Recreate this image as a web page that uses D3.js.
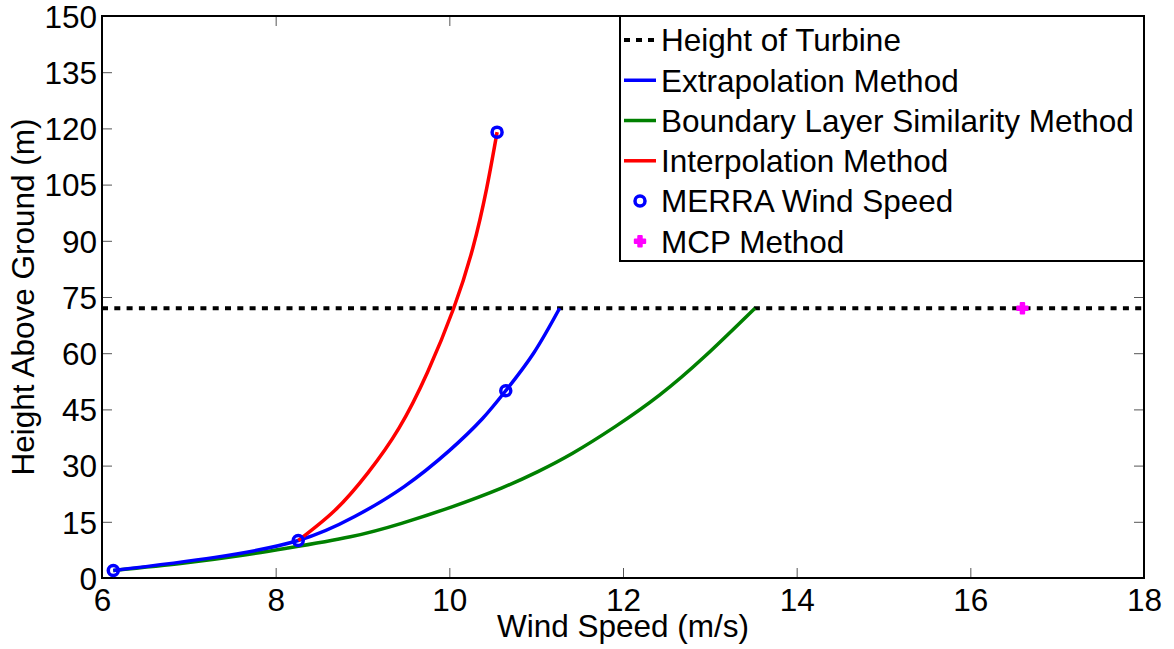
<!DOCTYPE html>
<html>
<head>
<meta charset="utf-8">
<script src="https://cdn.jsdelivr.net/npm/d3@7"></script>
<style>
  html, body { margin: 0; padding: 0; background: #fff; }
  svg { display: block; font-family: "Liberation Sans", Arial, Helvetica, sans-serif; }
</style>
</head>
<body>
<svg id="chart" width="1174" height="649"></svg>
<script>
// ---- Data ----
const xTicks = [6, 8, 10, 12, 14, 16, 18];
const yTicks = [0, 15, 30, 45, 60, 75, 90, 105, 120, 135, 150];

const turbineHeight = 72;

// Extrapolation Method (blue): wind speed (m/s) vs height (m)
const extrapolationSpeed  = [6.13, 7.30, 8.26, 8.91, 9.48, 10.00, 10.38, 10.65, 10.97, 11.27];
const extrapolationHeight = [2.0,  5.5,  10.0, 16.4, 24.4, 34.0,  42.5,  50.0,  60.0,  72.0];

// Boundary Layer Similarity Method (green)
const boundarySpeed  = [6.13, 6.95, 7.60, 8.14, 8.86, 9.45, 10.03, 10.60, 11.02, 11.42, 11.91, 12.42, 12.94, 13.52];
const boundaryHeight = [2.0,  4.0,  6.0,  8.0,  11.0, 14.6, 19.0,  24.0,  28.4,  33.3,  40.4,  48.8,  59.1,  72.0];

// Interpolation Method (red)
const interpolationSpeed  = [8.26, 8.68, 9.06, 9.42, 9.75, 10.05, 10.27, 10.43, 10.55];
const interpolationHeight = [10.0, 18.0, 28.0, 40.0, 55.0, 72.0,  88.0,  104.0, 119.0];

// MERRA Wind Speed (blue circles)
const merraSpeed  = [6.13, 8.26, 10.65, 10.55];
const merraHeight = [2, 10, 50, 119];

// MCP Method (magenta)
const mcpSpeed  = [16.6];
const mcpHeight = [72];

const legendLabels = ["Height of Turbine", "Extrapolation Method", "Boundary Layer Similarity Method",
                      "Interpolation Method", "MERRA Wind Speed", "MCP Method"];

// ---- Layout ----
const svg = d3.select("#chart");
const L = 102, R = 1144, T = 16, B = 578;
const x = d3.scaleLinear().domain([6, 18]).range([L, R]);
const y = d3.scaleLinear().domain([0, 150]).range([B, T]);

const fontSize = 31.5;

// Axes (ticks inward)
const tickLen = 10;
const xAxis = d3.axisBottom(x).tickValues(xTicks).tickSize(-tickLen).tickFormat(d3.format("d"));
const yAxis = d3.axisLeft(y).tickValues(yTicks).tickSize(-tickLen).tickFormat(d3.format("d"));
const xTop = d3.axisTop(x).tickValues(xTicks).tickSize(-tickLen).tickFormat("");
const yRight = d3.axisRight(y).tickValues(yTicks).tickSize(-tickLen).tickFormat("");

function styleAxis(g) {
  g.select(".domain").remove();
  g.selectAll(".tick line").attr("stroke", "#555").attr("stroke-width", 1);
  g.selectAll(".tick text").attr("font-size", fontSize).attr("fill", "#000")
    .attr("font-family", "'Liberation Sans', Arial, Helvetica, sans-serif");
}

svg.append("g").attr("transform", `translate(0,${B})`).call(xAxis).call(styleAxis)
  .selectAll(".tick text").attr("dy", "0.72em").attr("y", 10);
svg.append("g").attr("transform", `translate(${L},0)`).call(yAxis).call(styleAxis)
  .selectAll(".tick text").attr("dy", "0.36em").attr("x", -5);
svg.append("g").attr("transform", `translate(0,${T})`).call(xTop).call(styleAxis);
svg.append("g").attr("transform", `translate(${R},0)`).call(yRight).call(styleAxis);

// Frame
svg.append("rect").attr("x", L).attr("y", T).attr("width", R - L).attr("height", B - T)
  .attr("fill", "none").attr("stroke", "#000").attr("stroke-width", 2);

// Axis labels
svg.append("text").attr("x", (L + R) / 2).attr("y", 637).attr("text-anchor", "middle")
  .attr("font-size", fontSize).text("Wind Speed (m/s)");
svg.append("text").attr("transform", `translate(34,${(T + B) / 2}) rotate(-90)`)
  .attr("text-anchor", "middle").attr("font-size", fontSize).text("Height Above Ground (m)");

// Plot content
const plot = svg.append("g");

// Turbine height line
plot.append("line").attr("x1", x(6)).attr("x2", x(18)).attr("y1", y(turbineHeight)).attr("y2", y(turbineHeight))
  .attr("stroke", "#000").attr("stroke-width", 4).attr("stroke-dasharray", "6,6.3");

const line = d3.line().x(d => x(d[0])).y(d => y(d[1])).curve(d3.curveNatural);
function series(sp, h) { return sp.map((s, i) => [s, h[i]]); }

plot.append("path").datum(series(boundarySpeed, boundaryHeight)).attr("d", line)
  .attr("fill", "none").attr("stroke", "#008000").attr("stroke-width", 3.5);
plot.append("path").datum(series(extrapolationSpeed, extrapolationHeight)).attr("d", line)
  .attr("fill", "none").attr("stroke", "#0000ff").attr("stroke-width", 3.5);
plot.append("path").datum(series(interpolationSpeed, interpolationHeight)).attr("d", line)
  .attr("fill", "none").attr("stroke", "#ff0000").attr("stroke-width", 3.5);

plot.selectAll(".merra").data(series(merraSpeed, merraHeight)).enter().append("circle")
  .attr("cx", d => x(d[0])).attr("cy", d => y(d[1])).attr("r", 5)
  .attr("fill", "none").attr("stroke", "#0000ff").attr("stroke-width", 3.5);

const cross = d3.symbol().type(d3.symbolCross).size(60);
plot.selectAll(".mcp").data(series(mcpSpeed, mcpHeight)).enter().append("path")
  .attr("transform", d => `translate(${x(d[0])},${y(d[1])})`).attr("d", cross)
  .attr("fill", "#ff00ff").attr("stroke", "#ff00ff").attr("stroke-width", 2).attr("stroke-linejoin", "round");

// Legend
const lg = svg.append("g");
lg.append("rect").attr("x", 620).attr("y", T).attr("width", R - 620).attr("height", 261 - T)
  .attr("fill", "#fff").attr("stroke", "#000").attr("stroke-width", 2);
const rowY = i => 40 + i * 40.26;
const lx1 = 624, lx2 = 656, tx = 661;
lg.append("line").attr("x1", lx1).attr("x2", lx2).attr("y1", rowY(0)).attr("y2", rowY(0))
  .attr("stroke", "#000").attr("stroke-width", 4).attr("stroke-dasharray", "6,6");
const lineColors = ["#0000ff", "#008000", "#ff0000"];
lineColors.forEach((c, k) => {
  lg.append("line").attr("x1", lx1).attr("x2", lx2).attr("y1", rowY(k + 1)).attr("y2", rowY(k + 1))
    .attr("stroke", c).attr("stroke-width", 3.5);
});
lg.append("circle").attr("cx", 640).attr("cy", rowY(4)).attr("r", 5)
  .attr("fill", "none").attr("stroke", "#0000ff").attr("stroke-width", 3.5);
lg.append("path").attr("transform", `translate(640,${rowY(5)})`).attr("d", cross)
  .attr("fill", "#ff00ff").attr("stroke", "#ff00ff").attr("stroke-width", 2).attr("stroke-linejoin", "round");
legendLabels.forEach((t, i) => {
  lg.append("text").attr("x", tx).attr("y", rowY(i)).attr("dy", "0.36em")
    .attr("font-size", fontSize).text(t);
});
</script>
</body>
</html>
